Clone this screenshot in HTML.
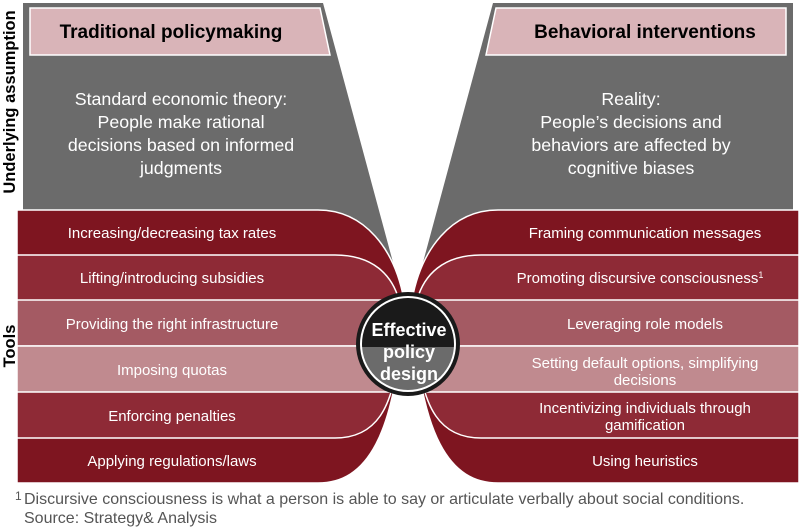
<!DOCTYPE html>
<html><head><meta charset="utf-8"><style>
html,body{margin:0;padding:0;background:#fff;}
svg{display:block;font-family:"Liberation Sans",Arial,sans-serif;}
</style></head><body>
<svg width="801" height="529" viewBox="0 0 801 529" xmlns="http://www.w3.org/2000/svg">
<defs>
<g id="half">
  <path d="M23,3 H323 L401,292 L23,292 Z" fill="#6b6b6b"/>
  <path d="M30,8 H320 L330,55 H30 Z" fill="#d9b4b8" stroke="#fff" stroke-width="1.5"/>
  <path d="M17,210 H318 C365,210 395,250 404,300 V392 H17 Z" fill="#7e1520" stroke="#fff" stroke-width="1.5"/>
  <path d="M17,300 H404 C397,440 365,483 318,483 H17 Z" fill="#7e1520" stroke="#fff" stroke-width="1.5"/>
  <path d="M17,255 H335 C373,255 392,275 399,300 V346 H17 Z" fill="#8e2a36" stroke="#fff" stroke-width="1.5"/>
  <path d="M17,346 H399 C394,410 375,438 335,438 H17 Z" fill="#8e2a36" stroke="#fff" stroke-width="1.5"/>
  <rect x="17" y="300" width="390" height="46" fill="#a45a63" stroke="#fff" stroke-width="1.5"/>
  <rect x="17" y="346" width="390" height="46" fill="#c08a8f" stroke="#fff" stroke-width="1.5"/>
</g>
<clipPath id="ctop"><rect x="300" y="280" width="220" height="67"/></clipPath>
<clipPath id="cbot"><rect x="300" y="347" width="220" height="60"/></clipPath>
</defs>
<use href="#half"/>
<use href="#half" transform="translate(816,0) scale(-1,1)"/>
<rect x="404" y="300" width="8" height="92" fill="#c08a8f"/>

<circle cx="408" cy="344" r="52" fill="#1a1a1a"/>
<circle cx="408" cy="344" r="48" fill="#fff"/>
<circle cx="408" cy="344" r="46" fill="#1a1a1a" clip-path="url(#ctop)"/>
<circle cx="408" cy="344" r="46" fill="#6b6b6b" clip-path="url(#cbot)"/>
<g fill="#fff" font-weight="bold" font-size="18" text-anchor="middle">
<text x="409" y="336">Effective</text>
<text x="409" y="358">policy</text>
<text x="409" y="380">design</text>
</g>

<g font-weight="bold" font-size="19" text-anchor="middle" fill="#000">
<text x="171" y="38">Traditional policymaking</text>
<text x="645" y="38">Behavioral interventions</text>
</g>
<g font-size="17.8" text-anchor="middle" fill="#fff">
<text x="181" y="105">Standard economic theory:</text>
<text x="181" y="128">People make rational</text>
<text x="181" y="151">decisions based on informed</text>
<text x="181" y="174">judgments</text>
<text x="631" y="105">Reality:</text>
<text x="631" y="128">People’s decisions and</text>
<text x="631" y="151">behaviors are affected by</text>
<text x="631" y="174">cognitive biases</text>
</g>
<g font-size="15" text-anchor="middle" fill="#fff">
<text x="172" y="238">Increasing/decreasing tax rates</text>
<text x="172" y="283">Lifting/introducing subsidies</text>
<text x="172" y="329">Providing the right infrastructure</text>
<text x="172" y="375">Imposing quotas</text>
<text x="172" y="421">Enforcing penalties</text>
<text x="172" y="466">Applying regulations/laws</text>
<text x="645" y="238">Framing communication messages</text>
<text x="640" y="283">Promoting discursive consciousness<tspan font-size="9" dy="-5">1</tspan></text>
<text x="645" y="329">Leveraging role models</text>
<text x="645" y="368">Setting default options, simplifying</text>
<text x="645" y="385">decisions</text>
<text x="645" y="413">Incentivizing individuals through</text>
<text x="645" y="430">gamification</text>
<text x="645" y="466">Using heuristics</text>
</g>
<g font-weight="bold" font-size="16.5" text-anchor="middle" fill="#000">
<text transform="translate(15,102) rotate(-90)">Underlying assumption</text>
<text transform="translate(15,346) rotate(-90)">Tools</text>
</g>
<g font-size="16" fill="#555">
<text x="15" y="500" font-size="12">1</text>
<text x="24" y="504">Discursive consciousness is what a person is able to say or articulate verbally about social conditions.</text>
<text x="24" y="523">Source: Strategy&amp; Analysis</text>
</g>
</svg>
</body></html>
